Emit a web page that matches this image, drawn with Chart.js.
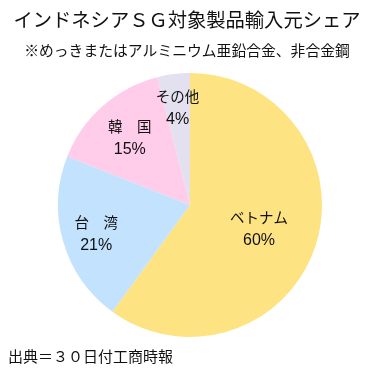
<!DOCTYPE html>
<html><head><meta charset="utf-8">
<script src="https://cdn.jsdelivr.net/npm/chart.js@4.4.0/dist/chart.umd.min.js"></script>
<style>html,body{margin:0;padding:0;background:#fff;}canvas{display:block;}</style>
</head><body>
<canvas id="c" width="373" height="376"></canvas>
<script>
const categories = ["ベトナム", "台　湾", "韓　国", "その他"];
const shares = [60, 21, 15, 4];
const colors = ["#FEE383", "#C2E2FE", "#FFCCEA", "#E3E0EF"];
const labelRadius = [0.55, 0.74, 0.69, 0.75];
const titleText = "インドネシアＳＧ対象製品輸入元シェア";
const subtitleText = "※めっきまたはアルミニウム亜鉛合金、非合金鋼";
const footerText = "出典＝３０日付工商時報";
const FONT = '"Noto Sans CJK JP", "Noto Sans", sans-serif';
const NUMFONT = '"Liberation Sans", "Noto Sans CJK JP", sans-serif';

const textPlugin = {
  id: 'texts',
  afterDraw(chart) {
    const ctx = chart.ctx;
    ctx.save();
    ctx.fillStyle = '#111';
    ctx.textBaseline = 'middle';
    ctx.textAlign = 'center';
    ctx.font = '19.3px ' + FONT;
    ctx.fillText(titleText, 187, 20);
    ctx.font = '14.8px ' + FONT;
    ctx.fillText(subtitleText, 187, 50);
    ctx.textAlign = 'left';
    ctx.font = '15px ' + FONT;
    ctx.fillText(footerText, 8, 356);
    const meta = chart.getDatasetMeta(0);
    ctx.textAlign = 'center';
    meta.data.forEach((arc, i) => {
      const p = arc.getProps(['x','y','startAngle','endAngle','outerRadius'], true);
      const mid = (p.startAngle + p.endAngle) / 2;
      const r = p.outerRadius * labelRadius[i];
      const x = p.x + Math.cos(mid) * r;
      const y = p.y + Math.sin(mid) * r;
      ctx.font = '14.5px ' + FONT;
      ctx.fillText(categories[i], x, y - 10);
      ctx.font = '16px ' + NUMFONT;
      ctx.fillText(shares[i] + '%', x, y + 13);
    });
    ctx.restore();
  }
};

new Chart(document.getElementById('c'), {
  type: 'pie',
  data: {
    labels: categories,
    datasets: [{ data: shares, backgroundColor: colors, borderWidth: 0 }]
  },
  options: {
    responsive: false,
    animation: false,
    layout: { padding: { top: 73, bottom: 39, left: 58, right: 51 } },
    plugins: { legend: { display: false }, tooltip: { enabled: false }, title: { display: false } }
  },
  plugins: [textPlugin]
});
</script>
</body></html>
